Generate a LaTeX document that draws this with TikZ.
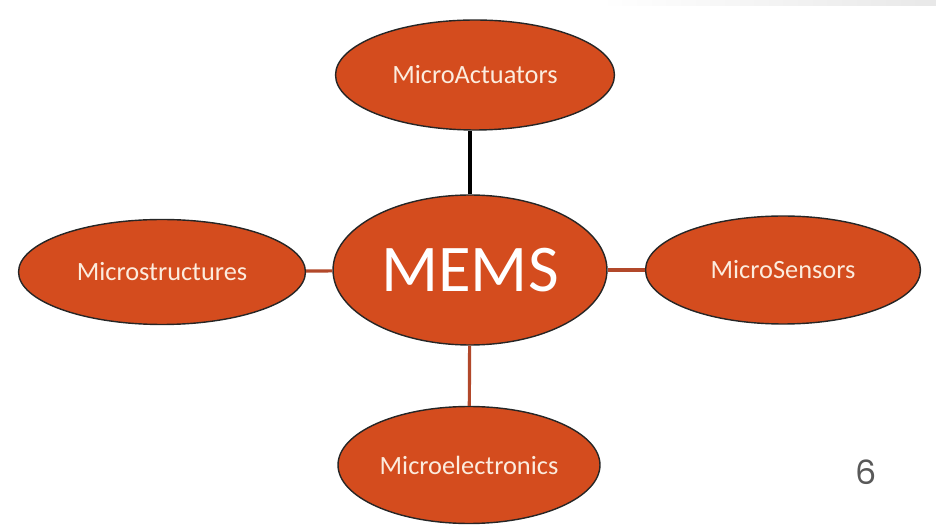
\documentclass[tikz,border=0pt]{standalone}
\usepackage{fontspec}
\setmainfont{Carlito}
\newfontfamily\numfont{Poppins}
\usetikzlibrary{shapes.geometric}
\definecolor{memsorange}{RGB}{212,76,30}
\definecolor{linkred}{RGB}{178,72,42}
\definecolor{labelcream}{RGB}{252,236,222}
\begin{document}
\begin{tikzpicture}[x=0.02cm, y=-0.02cm,
  blob/.style={ellipse, draw=black!85, thick, fill=memsorange, text=labelcream, inner sep=0pt, font=\fontsize{15}{18}\selectfont},
  link/.style={line width=1.8pt, draw=linkred}]
  \useasboundingbox (0,0) rectangle (936,526);
  \shade[left color=white, right color=black!9] (600,0) rectangle (936,6);
  \node[blob, minimum width=5.58cm, minimum height=2.2cm] (act) at (475,75) {MicroActuators};
  \node[blob, minimum width=5.48cm, minimum height=3.0cm, font=\fontsize{38}{44}\selectfont, text=white] (mems) at (470,270) {MEMS};
  \node[blob, minimum width=5.74cm, minimum height=2.1cm] (struct) at (162,272) {Microstructures};
  \node[blob, minimum width=5.5cm, minimum height=2.16cm] (sens) at (783,270) {MicroSensors};
  \node[blob, minimum width=5.24cm, minimum height=2.34cm] (elec) at (469,465) {Microelectronics};
  \draw[line width=1.8pt, black] (mems.north) -- (mems.north |- act.south);
  \draw[link] (mems) -- (struct);
  \draw[link] (mems) -- (sens);
  \draw[link] (mems) -- (elec);
  \node[text=black!65, font=\numfont\fontsize{19}{22}\selectfont] (page) at (866,472) {6};
\end{tikzpicture}
\end{document}
